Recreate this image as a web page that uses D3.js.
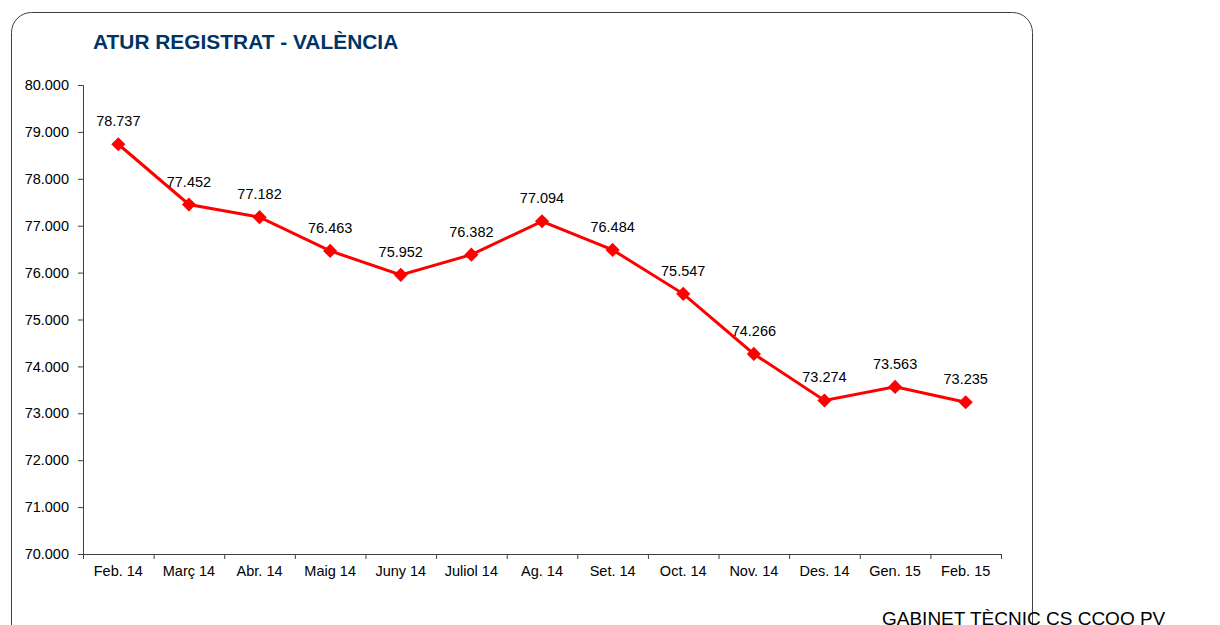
<!DOCTYPE html>
<meta charset="utf-8">
<script src="https://d3js.org/d3.v7.min.js"></script>
<style>
  body { margin: 0; background: #fff; }
  text { font-family: Arial, "Liberation Sans", sans-serif; }
</style>
<div id="my_dataviz"></div>
<script>

// months and registered unemployment values
var months = ["Feb. 14", "Març 14", "Abr. 14", "Maig 14", "Juny 14", "Juliol 14", "Ag. 14",
              "Set. 14", "Oct. 14", "Nov. 14", "Des. 14", "Gen. 15", "Feb. 15"];
var atur = [78737, 77452, 77182, 76463, 75952, 76382, 77094, 76484, 75547, 74266, 73274, 73563, 73235];
var yTicks = [70000, 71000, 72000, 73000, 74000, 75000, 76000, 77000, 78000, 79000, 80000];

var W = 1220, H = 625;
var margin = {top: 85, left: 83, right: 219, bottom: 71};
var width = W - margin.left - margin.right,
    height = H - margin.top - margin.bottom;

// spanish/catalan style number: 78.737
var fmt = function(v) { return d3.format(",")(v).replace(/,/g, "."); };

var root = d3.select("#my_dataviz")
  .append("svg")
    .attr("width", W)
    .attr("height", H);

// rounded frame (cut at the bottom)
root.append("rect")
    .attr("x", 11.5)
    .attr("y", 12.5)
    .attr("width", 1021)
    .attr("height", 640)
    .attr("rx", 20)
    .attr("fill", "none")
    .attr("stroke", "#404040")
    .attr("stroke-width", 1);

root.append("text")
    .attr("x", 93)
    .attr("y", 49)
    .attr("fill", "#003466")
    .attr("font-weight", "bold")
    .attr("font-size", "20.9px")
    .text("ATUR REGISTRAT - VALÈNCIA");

var svg = root.append("g")
    .attr("transform", "translate(" + margin.left + "," + margin.top + ")");

var x = d3.scaleBand()
  .domain(months)
  .range([0, width]);

var y = d3.scaleLinear()
  .domain([70000, 80000])
  .range([height, 0]);

// Y axis
var yAxis = svg.append("g")
  .call(d3.axisLeft(y).tickValues(yTicks).tickFormat(fmt).tickSize(5).tickPadding(9));

// X axis, ticks on band edges
var xAxis = svg.append("g")
  .attr("transform", "translate(0," + height + ")")
  .call(d3.axisBottom(x).tickSize(0).tickPadding(12));

xAxis.selectAll(".edge")
  .data(d3.range(months.length + 1))
  .enter()
  .append("line")
    .attr("class", "edge")
    .attr("x1", function(i) { return i * x.step() + 0.5; })
    .attr("x2", function(i) { return i * x.step() + 0.5; })
    .attr("y1", 0)
    .attr("y2", 5)
    .attr("stroke", "#404040");

[yAxis, xAxis].forEach(function(a) {
  a.select(".domain").attr("stroke", "#404040");
  a.selectAll(".tick line").attr("stroke", "#404040");
  a.selectAll("text")
    .attr("fill", "#000")
    .style("font-size", "14.5px")
    .style("font-family", "Arial, 'Liberation Sans', sans-serif");
});

var pts = months.map(function(m, i) { return {m: m, v: atur[i]}; });

// line
svg.append("path")
  .datum(pts)
  .attr("fill", "none")
  .attr("stroke", "#ff0000")
  .attr("stroke-width", 3)
  .attr("d", d3.line()
    .x(function(d) { return x(d.m) + x.bandwidth() / 2; })
    .y(function(d) { return y(d.v); }));

// diamond markers
svg.append("g")
  .selectAll("path")
  .data(pts)
  .enter()
  .append("path")
    .attr("d", d3.symbol().type(d3.symbolSquare).size(100))
    .attr("transform", function(d) {
      return "translate(" + (x(d.m) + x.bandwidth() / 2) + "," + y(d.v) + ") rotate(45)";
    })
    .attr("fill", "#ff0000");

// value labels
svg.append("g")
  .selectAll("text")
  .data(pts)
  .enter()
  .append("text")
    .attr("x", function(d) { return x(d.m) + x.bandwidth() / 2; })
    .attr("y", function(d) { return y(d.v) - 18; })
    .attr("text-anchor", "middle")
    .attr("font-size", "14.5px")
    .attr("fill", "#000")
    .text(function(d) { return fmt(d.v); });

// source line
root.append("text")
    .attr("x", 882)
    .attr("y", 625)
    .attr("font-size", "19px")
    .attr("fill", "#000")
    .text("GABINET TÈCNIC CS CCOO PV");

</script>
